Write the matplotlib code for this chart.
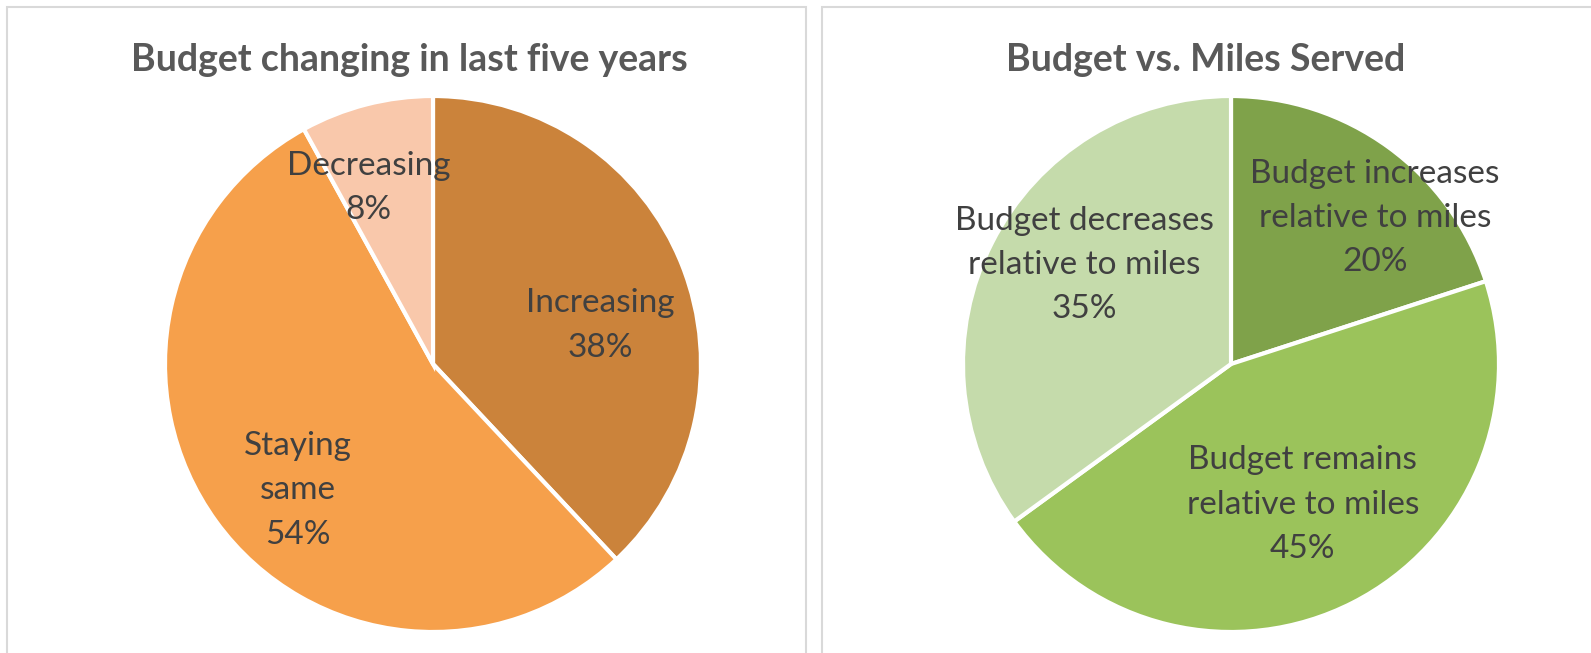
import numpy as np
import matplotlib.pyplot as plt
from matplotlib.patches import Rectangle

plt.rcParams['font.family'] = ['Lato', 'DejaVu Sans']

# Данные
left_title = 'Budget changing in last five years'
left_labels = ['Increasing', 'Staying\nsame', 'Decreasing']
left_values = [38, 54, 8]
left_colors = ['#CB833B', '#F6A04B', '#F9C8AB']

right_title = 'Budget vs. Miles Served'
right_labels = ['Budget increases\nrelative to miles',
                'Budget remains\nrelative to miles',
                'Budget decreases\nrelative to miles']
right_values = [20, 45, 35]
right_colors = ['#7FA24A', '#9BC35B', '#C5DBAB']

W, H = 1591, 653
fig = plt.figure(figsize=(W / 100, H / 100), dpi=100)


def px_axes(cx, cy, r):
    # оси в пикселях: центр и радиус круга
    return fig.add_axes([(cx - r) / W, (H - cy - r) / H, 2 * r / W, 2 * r / H])


def panel(x0, x1):
    fig.add_artist(Rectangle((x0 / W, -0.05), (x1 - x0) / W, (H - 7) / H + 0.05,
                             transform=fig.transFigure, fill=False,
                             edgecolor='#D9D9D9', linewidth=1.5))


def draw_pie(ax, values, labels, colors, spots):
    wedges, _ = ax.pie(values, colors=colors, startangle=90, counterclock=False,
                       radius=1, wedgeprops=dict(edgecolor='white', linewidth=3))
    for w, lab, val, (dist, dang) in zip(wedges, labels, values, spots):
        ang = np.deg2rad((w.theta1 + w.theta2) / 2 + dang)
        ax.text(dist * np.cos(ang), dist * np.sin(ang), f'{lab}\n{val}%',
                ha='center', va='center', fontsize=24, color='#404040',
                linespacing=1.6)
    ax.set_xlim(-1, 1)
    ax.set_ylim(-1, 1)
    ax.set_aspect('equal')
    ax.axis('off')


panel(7, 806)
panel(822, 1600)

ax1 = px_axes(433, 364, 268)
draw_pie(ax1, left_values, left_labels, left_colors,
         [(0.64, -8.6), (0.69, 7), (0.70, 5.6)])
fig.text(409 / W, 1 - 60 / H, left_title, ha='center', va='center',
         fontsize=27, fontweight='bold', color='#595959')

ax2 = px_axes(1231, 364, 268)
draw_pie(ax2, right_values, right_labels, right_colors,
         [(0.765, -8.6), (0.59, 0), (0.66, -7)])
fig.text(1206 / W, 1 - 60 / H, right_title, ha='center', va='center',
         fontsize=27, fontweight='bold', color='#595959')

fig.savefig('out.png', dpi=100)
